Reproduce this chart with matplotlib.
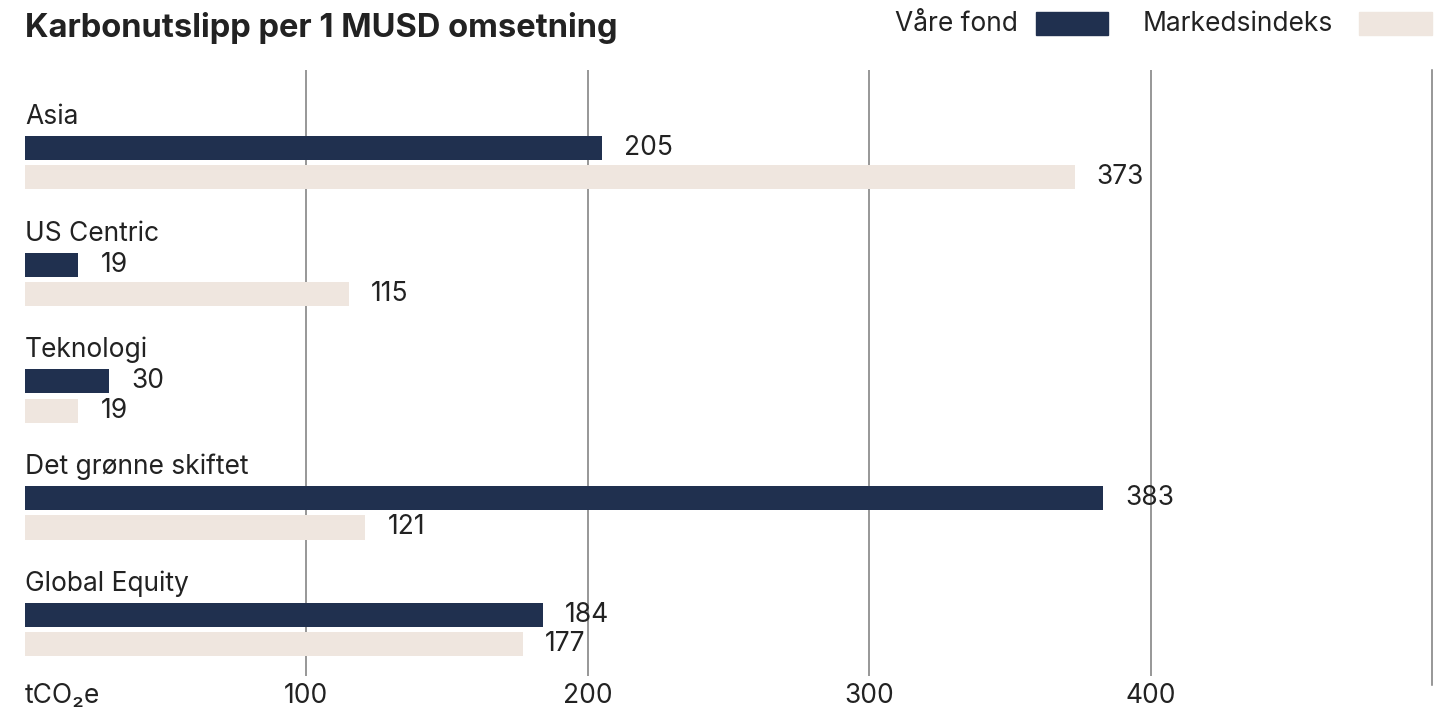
import matplotlib.pyplot as plt
from matplotlib.patches import Rectangle
import numpy as np

plt.rcParams['font.family'] = ['Inter', 'DejaVu Sans']

categories = ['Asia', 'US Centric', 'Teknologi', 'Det grønne skiftet', 'Global Equity']
fund_values = [205, 19, 30, 383, 184]
index_values = [373, 115, 19, 121, 177]
series_names = ['Våre fond', 'Markedsindeks']
x_ticks = [0, 100, 200, 300, 400]
x_tick_labels = ['tCO₂e', '100', '200', '300', '400']

dark = '#20304f'
light = '#efe6df'
grid_color = '#7a7a7a'
text_color = '#222222'
fs = 19

W, H = 1442, 711
fig = plt.figure(figsize=(W / 100, H / 100), dpi=100)
ax = fig.add_axes([25 / W, 1 - 676 / H, (1432 - 25) / W, (676 - 70) / H])

y = np.arange(len(categories))
off = 0.126
bh = 0.206
ax.barh(y - off, fund_values, height=bh, color=dark, zorder=2)
ax.barh(y + off, index_values, height=bh, color=light, zorder=2)

for i, cat in enumerate(categories):
    ax.text(0, i - 0.33, cat, fontsize=fs, color=text_color, va='baseline', ha='left')
    ax.annotate(str(fund_values[i]), (fund_values[i], i - off), xytext=(16, 0),
                textcoords='offset points', va='center', ha='left',
                fontsize=fs, color=text_color)
    ax.annotate(str(index_values[i]), (index_values[i], i + off), xytext=(16, 0),
                textcoords='offset points', va='center', ha='left',
                fontsize=fs, color=text_color)

ax.set_xlim(0, 500)
ax.set_ylim(4.398, -0.792)

for xv in [100, 200, 300, 400]:
    ax.axvline(xv, color=grid_color, lw=1.1, zorder=1)
ax.axvline(500, ymin=-0.015, ymax=1, color=grid_color, lw=1.1, zorder=1, clip_on=False)

ax.set_xticks(x_ticks)
ax.set_xticklabels(x_tick_labels, fontsize=fs, color=text_color)
ax.get_xticklabels()[0].set_horizontalalignment('left')
ax.tick_params(axis='x', length=0, pad=5)
ax.set_yticks([])
for s in ax.spines.values():
    s.set_visible(False)

fig.text(25 / W, 1 - 28 / H, 'Karbonutslipp per 1 MUSD omsetning', fontsize=23.5,
         fontweight='bold', color=text_color, va='center', ha='left')

# legend
fig.text(1018 / W, 1 - 24 / H, series_names[0], fontsize=fs, color=text_color,
         va='center', ha='right')
fig.patches.append(Rectangle((1036 / W, 1 - 35 / H), 72 / W, 23 / H,
                             transform=fig.transFigure, color=dark))
fig.text(1333 / W, 1 - 24 / H, series_names[1], fontsize=fs, color=text_color,
         va='center', ha='right')
fig.patches.append(Rectangle((1359 / W, 1 - 35 / H), 73 / W, 23 / H,
                             transform=fig.transFigure, color=light))

fig.savefig('out.png', dpi=100, facecolor='white')
